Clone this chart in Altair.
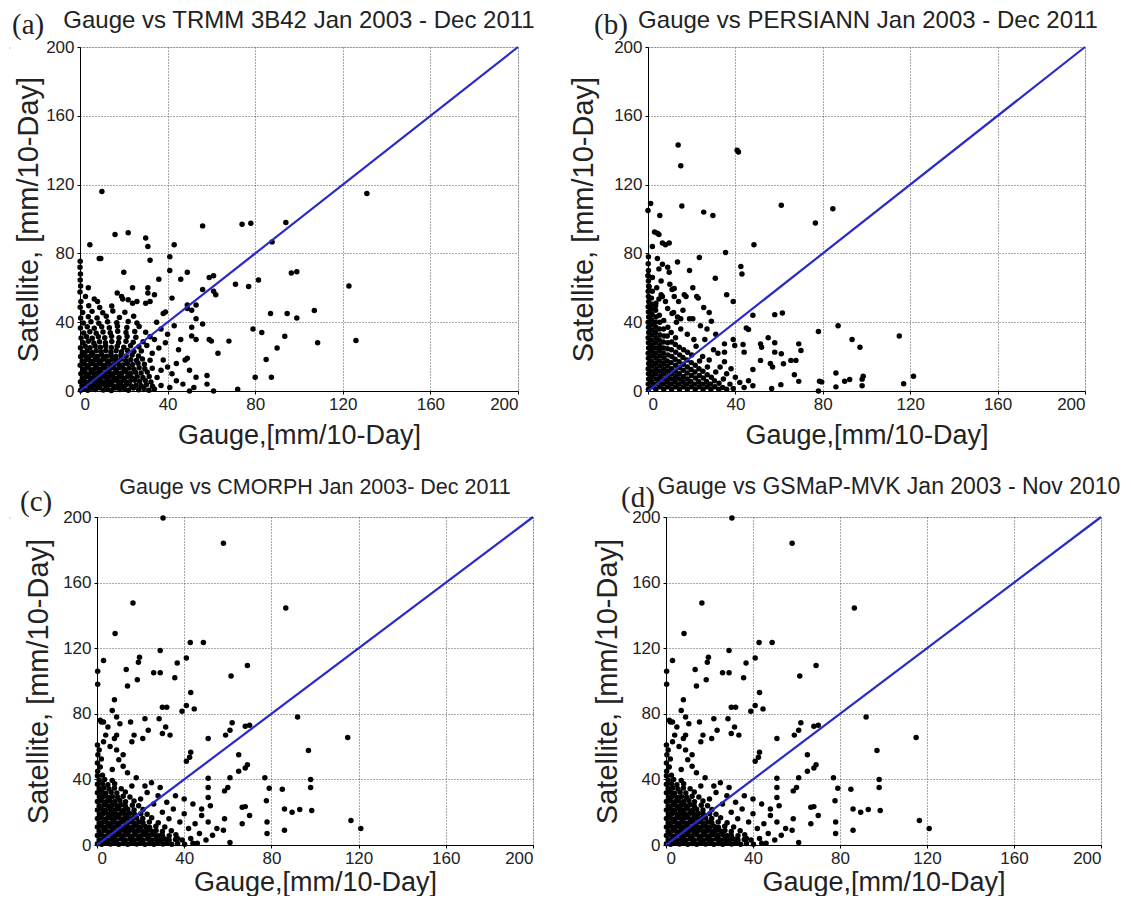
import altair as alt
import pandas as pd

axis_ticks = [0, 40, 80, 120, 160, 200]
line_gauge = [0, 200]
line_sat = [0, 200]

titles = [
    "Gauge vs TRMM 3B42 Jan 2003 - Dec 2011",
    "Gauge vs PERSIANN Jan 2003 - Dec 2011",
    "Gauge vs CMORPH Jan 2003- Dec 2011",
    "Gauge vs GSMaP-MVK Jan 2003 - Nov 2010",
]
letters = ["(a)", "(b)", "(c)", "(d)"]

# ---- panel (a): [gauge, satellite] ----
a_points = [
    [0.3,0.5],[1.8,1.2],[3.5,0.4],[5.2,1.6],[7.1,0.8],[8.9,1.9],[10.6,0.6],[12.4,1.4],[14.3,0.3],[16.1,1.7],[18.2,0.9],[20.3,1.3],[22.1,0.5],[24.4,1.8],[26.8,0.7],[29.2,1.5],[31.5,0.4],[34.0,1.1],
    [0.9,3.1],[2.7,3.8],[4.4,2.9],[6.3,3.6],[8.0,2.8],[9.8,3.9],[11.7,3.2],[13.5,3.7],[15.2,2.7],[17.3,3.5],[19.1,3.0],[21.2,3.8],[23.4,2.9],[25.6,3.4],[27.9,3.1],[30.3,3.7],[33.1,2.8],[37.0,3.2],
    [0.2,5.4],[2.0,5.9],[3.8,5.1],[5.7,6.2],[7.5,5.3],[9.2,6.0],[11.0,5.2],[12.9,6.1],[14.8,5.5],[16.6,6.3],[18.5,5.2],[20.5,6.0],[22.6,5.4],[24.9,6.2],[27.2,5.6],[29.8,6.1],[32.4,5.3],
    [1.1,7.7],[2.9,8.4],[4.7,7.5],[6.6,8.5],[8.4,7.6],[10.2,8.3],[12.1,7.8],[13.9,8.6],[15.8,7.4],[17.7,8.2],[19.6,7.7],[21.8,8.5],[23.9,7.6],[26.1,8.3],[28.7,7.9],[31.6,8.4],[35.2,7.8],
    [0.4,10.1],[2.3,10.8],[4.1,9.9],[6.0,10.7],[7.8,10.2],[9.6,11.0],[11.5,10.3],[13.3,10.9],[15.2,10.0],[17.0,10.8],[19.0,10.4],[21.0,11.1],[23.1,10.2],[25.3,10.9],[27.9,10.4],[30.7,11.0],
    [1.3,12.6],[3.1,13.3],[5.0,12.4],[6.9,13.2],[8.7,12.7],[10.6,13.5],[12.4,12.5],[14.3,13.4],[16.2,12.8],[18.1,13.6],[20.2,12.6],[22.4,13.3],[24.6,12.7],[27.0,13.5],[29.6,12.9],[33.0,13.2],
    [0.1,15.0],[2.0,15.7],[3.9,14.9],[5.8,15.8],[7.6,15.1],[9.5,15.9],[11.4,15.0],[13.3,15.6],[15.3,15.2],[17.4,16.0],[19.5,15.1],[21.6,15.8],[24.0,15.3],[26.5,16.1],[29.4,15.5],
    [1.0,17.5],[2.9,18.2],[4.8,17.3],[6.7,18.1],[8.6,17.6],[10.5,18.4],[12.5,17.4],[14.5,18.3],[16.6,17.7],[18.7,18.5],[20.9,17.6],[23.2,18.2],[25.8,17.8],[28.5,18.6],[32.0,17.9],
    [0.3,20.0],[2.2,20.7],[4.1,19.9],[6.0,20.8],[8.0,20.1],[10.0,20.9],[12.1,20.2],[14.2,20.8],[16.4,20.0],[18.7,20.9],[21.1,20.3],[23.8,21.0],[26.7,20.4],
    [1.1,22.6],[3.2,23.3],[5.3,22.4],[7.4,23.4],[9.6,22.7],[11.8,23.5],[14.1,22.6],[16.5,23.4],[19.0,22.8],[21.7,23.6],[24.6,22.9],[28.0,23.3],
    [0.2,25.2],[2.4,26.0],[4.6,25.1],[6.9,26.1],[9.3,25.4],[11.7,26.2],[14.3,25.3],[17.0,26.0],[20.0,25.5],[23.1,26.3],[26.9,25.7],[30.5,26.5],
    [1.4,28.0],[3.8,28.9],[6.3,27.9],[8.9,28.7],[11.6,28.1],[14.5,28.8],[17.6,28.2],[21.0,28.9],[24.3,28.3],[28.8,28.6],
    [0.5,30.8],[3.0,31.6],[5.6,30.7],[8.4,31.5],[11.3,30.9],[14.4,31.8],[17.8,31.0],[21.5,31.7],[25.5,31.2],[32.0,31.5],
    [1.7,33.7],[4.5,34.5],[7.4,33.6],[10.5,34.3],[13.8,33.9],[17.2,34.7],[21.0,34.0],[25.0,34.6],[30.0,34.2],
    [0.2,36.6],[3.3,37.3],[6.5,36.5],[9.9,37.4],[13.4,36.8],[17.1,37.6],[21.4,36.9],[27.0,37.5],
    [1.5,39.5],[5.0,40.3],[8.6,39.4],[12.6,40.2],[16.8,39.7],[22.0,40.4],[26.0,39.6],
    [0.3,42.5],[3.8,43.2],[7.8,42.4],[12.0,43.4],[18.0,42.8],[24.5,43.5],
    [1.2,45.6],[5.5,46.3],[10.4,45.5],[15.0,46.5],[20.5,45.8],
    [0.1,48.7],[4.0,49.5],[9.0,48.6],[14.5,49.4],
    [0.4,52.0],[2.5,55.0],[6.5,53.5],[0.0,57.5],[0.3,61.0],[3.8,60.0],[0.1,64.5],[0.2,68.0],[0.0,72.0],[0.1,75.5],
    [33,22],[36,25],[38,18],[40,14],[42,10],[37,12],[44,6],[41,2],[47,4],[35,40],[37,36],[40,33],[43,38],
    [46,30],[39,28],[34,30],[45,24],[48,18],[50,12],[53,8],[44,16],
    [10,116],[4.5,85],[8.8,77],[9.5,77],[16,91],[22,92],[30,89],[31,84],[32,76],[43,85],[41,78],[56,96],
    [74,97],[78,97.5],[94,98],[87.7,86.7],[96.5,68.6],[99,69.3],[77,60.7],[81.5,64.5],[122.8,61],[131,114.8],
    [87,45],[94.6,45],[99,42.4],[107,46.8],[79,36],[83,34],[93.5,31.8],[108.5,28],[126,29.4],[90,25],
    [85,18.3],[80,8],[87.4,8],
    [20,69],[36,65],[41,70],[46,65],[49,69],[59,66],[61,67],[56,59],[61,58],[62,56],[71,62],[42,54],
    [49,50],[49,48],[53,50],[51,47],[53,42],[56,39],[51,37],[51,32],[53,30],[59,30],[60,29],[68,29],
    [63,22],[49,19],[58,9],[58,4],[61,0],[72,1],[52,2],[50,0],
    [8,52],[17,57],[19,55],[19.5,53.5],[24,60],[31,60],[31,57],[34,56],[30,51],[32,52],[22,53],[24,51],
    [26,52],[38,45],[39,46],
]

# ---- panel (b): [gauge, satellite] ----
b_points = [
    [0.2,1],[0.1,4],[0.3,7],[0.2,10],[0.1,13],[0.3,16],[0.2,19],[0.1,22],[0.3,25],[0.2,28],[0.1,31],[0.3,34],[0.2,37],
    [0.1,40],[0.3,43],[0.2,46],[0.1,49],[0.3,52],[0.2,55],[0.1,58],[0.3,61],[0.2,64],[0.1,67],[0.2,70],[0.1,74],[0.2,78],
    [1.8,2.5],[1.6,5.5],[1.9,8.5],[1.7,11.5],[1.8,14.5],[1.6,17.5],[1.9,20.5],[1.7,23.5],[1.8,26.5],[1.6,29.5],
    [1.9,32.5],[1.7,35.5],[1.8,38.5],[1.6,41.5],[1.9,44.5],[1.7,47.5],[1.8,50.5],[1.6,54],[2,58],
    [3.6,1],[3.4,4],[3.7,7],[3.5,10],[3.6,13],[3.4,16],[3.7,19],[3.5,22],[3.6,25],[3.4,28],[3.7,31],[3.5,34],
    [3.6,37],[3.4,40],[3.7,43],[3.5,47],[3.6,51],
    [5.4,2.5],[5.2,5.5],[5.5,8.5],[5.3,11.5],[5.4,14.5],[5.2,17.5],[5.5,20.5],[5.3,23.5],[5.4,26.5],[5.2,29.5],
    [5.5,32.5],[5.3,36],[5.4,40],[5.2,44],
    [7.2,1],[7,4],[7.3,7],[7.1,10],[7.2,13],[7,16],[7.3,19],[7.1,22],[7.2,25],[7,28.5],[7.3,32],[7.1,36],[7.2,41],
    [9,2.5],[8.8,5.5],[9.1,8.5],[8.9,11.5],[9,14.5],[8.8,17.5],[9.1,21],[8.9,24.5],[9,28],[8.8,32],[9.1,37],
    [10.8,1],[10.6,4],[10.9,7],[10.7,10],[10.8,13],[10.6,16.5],[10.9,20],[10.7,24],[10.8,28.5],[10.6,34],
    [12.6,2.5],[12.4,5.5],[12.7,8.5],[12.5,11.5],[12.6,15],[12.4,18.5],[12.7,22.5],[12.5,27],[12.6,31],
    [14.4,1],[14.2,4],[14.5,7],[14.3,10],[14.4,13.5],[14.2,17],[14.5,21],[14.3,25.5],
    [16.2,2.5],[16,5.5],[16.3,8.5],[16.1,12],[16.2,15.5],[16,19.5],[16.3,24],
    [18,1],[17.8,4],[18.1,7],[17.9,10.5],[18,14],[17.8,18],[18.1,22.5],
    [19.8,2.5],[19.6,5.5],[19.9,9],[19.7,12.5],[19.8,16.5],[20,21],
    [21.6,1],[21.4,4],[21.7,7.5],[21.5,11],[21.6,15],
    [23.4,2.5],[23.2,5.5],[23.5,9],[23.3,13],[23.6,17.5],
    [25.2,1],[25,4],[25.3,7.5],[25.1,11.5],[27,2.5],[26.8,5.5],[27.1,9.5],[27.2,14],
    [28.8,1],[28.6,4],[29,8],[30.6,2.5],[30.4,6],[31,11],[32.4,1],[32.5,4.5],[34.2,2],[34.5,7],[36,1],[37.5,4],[39,1.5],
    [22,26],[25,20],[28,18],[30,24],[26,30],[33,14],[35,17],[32,22],[36,10],[38,13],[40,8],[42,5],[44,2],[46,6],
    [48,3],[21,30],[18,33],[15,36],[13,40],[11,45],[9,48],[8,52],[6,56],[24,38],[19,42],[16,47],[14,52],[12,55],
    [31,33],[27,36],[10,62],[6,64],[4,60],[2,66],
    [13.8,143],[15,131],[40.8,140],[41.4,139],[1.2,109],[0,105],[15.5,107.5],[5.4,102],[25.5,104],[29.7,102],
    [61,108],[84.6,106],[76.6,97.7],[3,92.5],[4.3,91.7],[5,91],[2,84],[6.6,86],[8,85],[9.7,86],[48.5,85],
    [35.5,80.5],[23.5,77.6],[13.5,75],[19,70],[30.8,65.6],[42.5,72.4],[43,68],[4.3,77],[5,71],[6.6,73.7],[9,72],
    [9.7,69],[0,67],[0.5,60.6],[11,59],[12,59.6],[20.5,60],[16.6,56],[17.4,55],[22.3,55],[23,54],[36,56],[39,52],
    [3.5,49.6],[5,53.5],[6.6,55],[25.5,48.6],[11.7,45.7],[13.5,43],[15,42],[20.5,42],[28,45.7],[29,40.5],[48,44],
    [58,44.4],[61.5,45.4],[45,36.7],[46,35.7],[39,30],[39.7,26.4],[43.5,27],[44,22.6],[35,27.4],[35,22.6],
    [51.5,27.4],[52,25.5],[55,31],[58,28],[58,22.6],[61,21.6],[69,27.4],[70,23.5],[65.4,17.8],[67.7,17.8],
    [62,15.8],[56,16],[57,14],[51.5,17.8],[48,12.5],[67,9.5],[69,5.6],[60.8,3.7],[56.6,1.4],[78,0],
    [87,38],[78,34.6],[93.4,30],[97,25.4],[115,32],[86,10.5],[86,2.4],[90,5.7],[92.3,6.7],[98.5,8.6],[98,6.9],
    [98,3],[78.5,5.7],[79.5,5.3],[117,4.2],[121.5,8.6],
]

# ---- panel (c): [gauge, satellite] ----
c_points = [
    [0.2,0.8],[2.1,0.5],[4.0,1.1],[6.2,0.6],[8.1,1.0],[10.0,0.4],[12.2,0.9],[14.1,0.5],[16.0,1.2],[18.2,0.6],[20.1,1.0],
    [22.0,0.4],[24.2,0.9],[26.1,0.5],[28.0,1.1],[30.2,0.6],[32.1,1.0],[34.3,0.5],[37.0,0.9],[40.2,0.4],[44.0,1.0],
    [1.0,3.2],[3.1,3.6],[5.0,2.9],[7.1,3.5],[9.0,3.0],[11.1,3.7],[13.0,3.1],[15.2,3.5],[17.0,2.9],[19.1,3.6],
    [21.0,3.1],[23.2,3.7],[25.1,3.0],[27.0,3.5],[29.2,3.1],[31.0,3.7],[33.1,3.0],[36.0,3.4],[39.1,3.1],
    [0.2,5.8],[2.0,6.2],[4.1,5.5],[6.0,6.1],[8.2,5.6],[10.1,6.3],[12.0,5.7],[14.2,6.2],[16.1,5.5],[18.0,6.1],
    [20.2,5.6],[22.1,6.3],[24.0,5.8],[26.2,6.2],[28.1,5.6],[30.0,6.0],[33.1,5.7],[36.2,6.2],
    [1.0,8.4],[3.2,8.8],[5.1,8.1],[7.0,8.7],[9.2,8.2],[11.0,8.9],[13.1,8.3],[15.0,8.8],[17.2,8.2],[19.0,8.7],
    [21.1,8.3],[23.0,8.9],[25.2,8.4],[27.1,8.8],[30.0,8.3],[34.1,8.7],
    [0.2,11.0],[2.1,11.4],[4.0,10.8],[6.1,11.3],[8.0,10.9],[10.2,11.5],[12.1,10.8],[14.0,11.3],[16.2,10.9],
    [18.1,11.4],[20.0,10.9],[22.2,11.3],[24.1,10.8],[27.0,11.4],[31.1,11.0],
    [1.0,13.6],[3.1,14.0],[5.0,13.3],[7.2,13.9],[9.1,13.4],[11.0,14.1],[13.2,13.5],[15.1,14.0],[17.0,13.4],
    [19.2,14.0],[21.1,13.5],[24.0,14.1],[28.1,13.6],
    [0.2,16.2],[2.0,16.6],[4.2,16.0],[6.1,16.5],[8.0,16.1],[10.1,16.7],[12.2,16.0],[14.0,16.6],[16.1,16.1],
    [18.2,16.5],[21.0,16.2],[25.1,16.6],
    [1.1,18.8],[3.0,19.2],[5.2,18.6],[7.1,19.1],[9.0,18.7],[11.2,19.3],[13.1,18.6],[15.0,19.2],[17.2,18.7],
    [20.1,19.1],[23.0,18.8],
    [0.2,21.4],[2.1,21.8],[4.0,21.2],[6.2,21.7],[8.1,21.3],[10.0,21.9],[12.2,21.2],[14.1,21.8],[17.0,21.3],[21.1,21.7],
    [1.0,24.0],[3.2,24.4],[5.1,23.8],[7.0,24.3],[9.2,23.9],[11.1,24.5],[13.0,23.8],[16.2,24.3],[19.1,24.0],
    [0.2,26.6],[2.0,27.0],[4.1,26.4],[6.0,26.9],[8.2,26.5],[10.5,27.1],[13.1,26.4],[17.0,26.8],
    [1.1,29.2],[3.0,29.6],[5.2,29.0],[7.1,29.5],[9.5,29.1],[12.0,29.7],[15.1,29.2],
    [0.2,31.8],[2.1,32.2],[4.0,31.6],[6.5,32.1],[9.1,31.7],[13.0,32.3],
    [1.0,34.4],[3.1,34.8],[5.5,34.2],[8.0,34.7],[11.1,34.3],
    [0.2,37.0],[2.5,37.4],[5.0,36.8],[8.1,37.3],[1.0,39.6],[3.5,40.0],[7.0,39.4],[0.2,42.2],[2.5,42.6],
    [0.3,45],[1.5,47.5],[0.2,50],[2,52.5],[0.4,55],[1,58],[0.2,61],[3,63],
    [20,28],[23,32],[26,25],[28,30],[25,38],[18,41],[14,44],[30,20],[32,26],[35,22],[33,16],[38,14],[40,19],
    [42,10],[45,13],[47,7],[43,4],[12,48],[10,52],[7,46],[16,36],[22,36],[29,35],[36,30],[40,28],[44,25],
    [48,22],[37,4],[50,3],[53,6],[46,1],[55,10],[4,67],[6,60],[9,58],[12,55],[5,72],[2,75],[8,65],
    [30.3,199.4],[58,184],[16.5,147.5],[86.6,144.5],[8.3,129],[42.8,123.5],[48.8,123.5],[29,118.6],[3,112.5],
    [19.5,114.5],[19,111.5],[36.8,111],[41,114],[0.3,106],[0.3,98],[13.4,107],[26,105],[29,105],[35.7,102],
    [14,97],[18.5,100.7],[61.5,103],[69,109.5],[43,93],[8,88.5],[30,84],[32,84],[7,82],[39,81.6],[41,85],
    [44.6,83],[92,78],[22,77],[28.5,77],[15.4,75],[9,78],[10.5,74],[3,75],[1.5,76],[62,74.5],[68,72.4],[70,73],
    [61,70],[59,67],[23.5,70],[31.5,72],[30,68],[33.5,67],[9,67],[17,67],[16,63],[21,65],[51,65],[115,65.5],
    [97,57.6],[65,55],[43,56.6],[42.5,53.5],[41,51],[69,49],[68,47],[65,45],[61,41],[77,41],[79,34.6],[85,34],
    [98,40],[98,35],[60,35],[58.5,33],[51,40.7],[51,35],[77.7,27],[86,22],[89.5,20],[93,21.6],[98.5,21],
    [116.5,15],[121,10],[78,14],[78,7],[86,9],[66.6,23],[68,23.4],[70,18],[66.6,13],[61,1.6],[51,29],[52,24],
    [48,18],[51,14],[58.5,16],[58,9],
]

# panel (d) shows the same scatter as panel (c)
d_points = [list(p) for p in c_points]

FONT = "Liberation Sans"
TXT = "#222222"


def panel(points, title, letter, w, h, tx, ty, tsize, lx, ly, ytitle_pad, xtitle_pad):
    df = pd.DataFrame(points, columns=["gauge", "sat"])
    ldf = pd.DataFrame({"gauge": line_gauge, "sat": line_sat})
    xs = alt.Scale(domain=[0, 200], nice=False, zero=True)
    ys = alt.Scale(domain=[0, 200], nice=False, zero=True)
    common = dict(
        values=axis_ticks, grid=True, gridDash=[1, 2], gridColor="#555555", gridWidth=1,
        ticks=True, tickSize=3, tickColor="#000000", domainColor="#000000", domainWidth=1,
        labelFont=FONT, labelFontSize=17, labelColor=TXT,
        titleFont=FONT, titleFontWeight="normal", titleColor=TXT,
    )
    xax = alt.Axis(title="Gauge,[mm/10-Day]", labelPadding=2, titlePadding=xtitle_pad,
                   titleFontSize=27, **common)
    yax = alt.Axis(title="Satellite, [mm/10-Day]", labelPadding=3, titlePadding=ytitle_pad,
                   titleFontSize=29, **common)
    pts = alt.Chart(df).mark_circle(size=30, color="#000000", opacity=1).encode(
        x=alt.X("gauge:Q", scale=xs, axis=xax),
        y=alt.Y("sat:Q", scale=ys, axis=yax),
    )
    ln = alt.Chart(ldf).mark_line(color="#2a2ac8", strokeWidth=2.2).encode(
        x=alt.X("gauge:Q", scale=xs), y=alt.Y("sat:Q", scale=ys)
    )
    lab = alt.Chart(pd.DataFrame({"t": [letter]})).mark_text(
        font="Liberation Serif", fontSize=29, align="left", baseline="alphabetic", color=TXT
    ).encode(x=alt.value(lx), y=alt.value(ly), text="t:N")
    ttl = alt.Chart(pd.DataFrame({"t": [title]})).mark_text(
        font=FONT, fontSize=tsize, align="center", baseline="alphabetic", color=TXT
    ).encode(x=alt.value(tx), y=alt.value(ty), text="t:N")
    return alt.layer(pts, ln, lab, ttl).properties(width=w, height=h)


def spacer():
    # empty 1px-wide cell used to offset a row horizontally
    return alt.Chart(pd.DataFrame({"t": [0]})).mark_rule(strokeOpacity=0, strokeWidth=0).encode(
        x=alt.value(0), x2=alt.value(1), y=alt.value(0)
    ).properties(width=1, height=1)


pa = panel(a_points, titles[0], letters[0], 438, 344, 219, -19, 24, -68, -13, 2, 10)
pb = panel(b_points, titles[1], letters[1], 437, 344, 220, -19, 24, -54, -13, 15, 10)
pc = panel(c_points, titles[2], letters[2], 436, 328, 218, -23, 21.5, -77, -6, 9, 3)
pd_ = panel(d_points, titles[3], letters[3], 435, 328, 223, -23, 23, -45, -10, 9, 3)

row1 = alt.hconcat(spacer(), alt.hconcat(pa, pb, spacing=33), spacing=0)
row2 = alt.hconcat(spacer(), alt.hconcat(pc, pd_, spacing=55), spacing=8)

chart = alt.vconcat(row1, row2, spacing=26).properties(
    padding={"left": 0, "top": 0, "right": 0, "bottom": 0}
).configure_view(stroke="transparent").configure(background="white")

chart.save("out.html", embed_options={"renderer": "svg", "actions": False})
